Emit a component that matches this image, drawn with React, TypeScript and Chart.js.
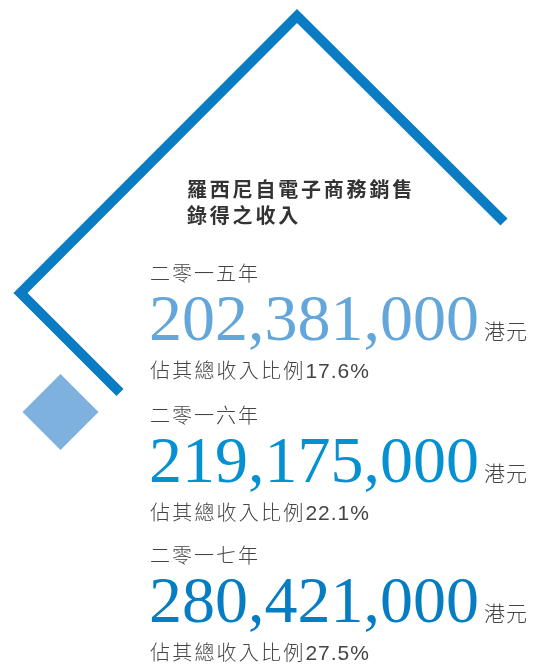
import React, { useEffect, useRef } from "react";
import { Chart, registerables } from "chart.js";

Chart.register(...registerables);

// ---- data ----
const titleLines = ["羅西尼自電子商務銷售", "錄得之收入"];
const years = ["二零一五年", "二零一六年", "二零一七年"];
const revenues = [202381000, 219175000, 280421000];
const shares = [17.6, 22.1, 27.5];
const unitLabel = "港元";
const shareLabel = "佔其總收入比例";

// decorative chevron outline & diamond (in canvas-value space)
const chevronX = [504, 297, 20.5, 120];
const chevronY = [222, 16, 293, 392.5];
const diamondX = [60.5];
const diamondY = [412];

// ---- styles ----
const W = 536;
const H = 665;
const numberColors = ["#63a6da", "#0590d1", "#067dc2"];
const chevronColor = "#0a7cc3";
const diamondColor = "#7fb1de";
const textGray = "#444444";
const titleColor = "#333333";
const CJK = '"Noto Sans CJK TC", "Noto Sans CJK SC", sans-serif';

const textPlugin = {
  id: "infoText",
  afterDatasetsDraw(chart: any) {
    const ctx = chart.ctx as CanvasRenderingContext2D;
    const xs = chart.scales.x;
    const ys = chart.scales.y;
    const px = (v: number) => xs.getPixelForValue(v);
    const py = (v: number) => ys.getPixelForValue(v);
    ctx.save();
    ctx.textBaseline = "alphabetic";
    ctx.textAlign = "left";

    // title
    ctx.fillStyle = titleColor;
    ctx.font = `bold 20px ${CJK}`;
    (ctx as any).letterSpacing = "2.8px";
    titleLines.forEach((t, i) => {
      ctx.fillText(t, px(187), py(197 + i * 26));
    });

    const blockTop = [0, 142, 282];
    years.forEach((yr, i) => {
      const b = blockTop[i];
      ctx.fillStyle = textGray;
      ctx.font = `300 20px ${CJK}`;
      (ctx as any).letterSpacing = "2px";
      ctx.fillText(yr, px(150), py(281 + b));

      ctx.fillStyle = numberColors[i];
      ctx.font = `66px "Liberation Serif", serif`;
      (ctx as any).letterSpacing = "0px";
      ctx.fillText(revenues[i].toLocaleString("en-US"), px(149), py(340 + b));

      ctx.fillStyle = textGray;
      ctx.font = `300 21px ${CJK}`;
      (ctx as any).letterSpacing = "1px";
      ctx.fillText(unitLabel, px(484), py(339 + b));

      ctx.font = `300 20px ${CJK}`;
      (ctx as any).letterSpacing = "2.2px";
      const lbl = shareLabel;
      ctx.fillText(lbl, px(150), py(378 + b));
      const w = ctx.measureText(lbl).width;
      ctx.font = `21px "Liberation Sans", Arial, sans-serif`;
      (ctx as any).letterSpacing = "1px";
      ctx.fillText(`${shares[i].toFixed(1)}%`, px(150) + w, py(378 + b));
    });
    ctx.restore();
  },
};

export default function App() {
  const ref = useRef<HTMLCanvasElement | null>(null);
  useEffect(() => {
    if (!ref.current) return;
    const chart = new Chart(ref.current, {
      type: "scatter",
      data: {
        datasets: [
          {
            type: "line",
            data: chevronX.map((x, i) => ({ x, y: chevronY[i] })),
            borderColor: chevronColor,
            borderWidth: 10,
            borderJoinStyle: "miter",
            borderCapStyle: "butt",
            pointRadius: 0,
            tension: 0,
            fill: false,
            clip: false as any,
          } as any,
          {
            data: diamondX.map((x, i) => ({ x, y: diamondY[i] })),
            pointStyle: "rectRot",
            pointRadius: 38,
            pointBackgroundColor: diamondColor,
            pointBorderWidth: 0,
            pointBorderColor: diamondColor,
            clip: false as any,
          } as any,
        ],
      },
      options: {
        animation: false,
        responsive: false,
        events: [],
        layout: { padding: 0, autoPadding: false } as any,
        plugins: { legend: { display: false }, tooltip: { enabled: false } },
        scales: {
          x: { type: "linear", min: 0, max: W, display: false },
          y: { type: "linear", min: 0, max: H, reverse: true, display: false },
        },
      },
      plugins: [textPlugin],
    });
    return () => chart.destroy();
  }, []);
  return (
    <div style={{ position: "absolute", left: 0, top: 0, width: W, height: H, background: "#fff" }}>
      <canvas ref={ref} width={W} height={H} style={{ display: "block" }} />
    </div>
  );
}
